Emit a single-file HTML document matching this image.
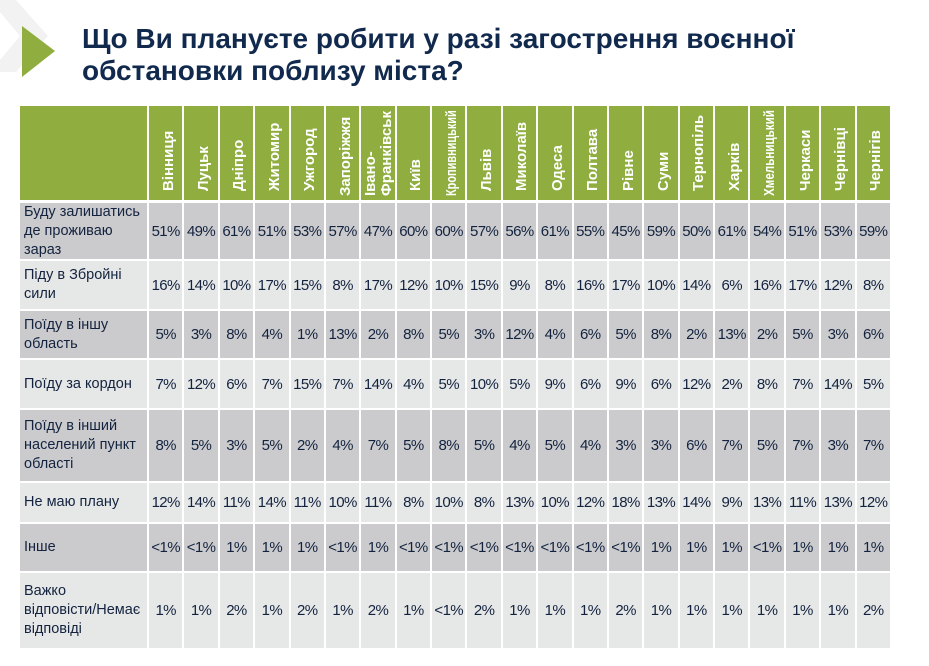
<!DOCTYPE html>
<html><head><meta charset="utf-8"><style>
body{margin:0;width:929px;height:666px;background:#fff;position:relative;overflow:hidden;font-family:"Liberation Sans","DejaVu Sans",sans-serif}
.t{position:absolute;left:82px;top:23px;font-size:28px;font-weight:bold;color:#10294d;line-height:32px;white-space:nowrap}
.c{position:absolute;box-sizing:border-box;display:flex;align-items:center;justify-content:center;color:#13233f;font-size:15px;letter-spacing:-0.6px}
.h{background:#8fae3f}
.hv{position:absolute;left:50%;bottom:8px;transform-origin:left bottom;color:#fff;font-size:15px;font-weight:bold;white-space:nowrap;line-height:16px;letter-spacing:0}
.lab{justify-content:flex-start;padding-left:4px;text-align:left;line-height:19px;font-size:14.5px;letter-spacing:0}
</style></head><body>
<svg style="position:absolute;left:0;top:0" width="60" height="80">
<polygon points="0,0 16,0 48,36 16,72 0,72 0,60 20,36 0,12" fill="#f2f2f2"/>
<polygon points="22,26 55,51 22,77" fill="#8fae3f"/>
</svg>
<div class="t">Що Ви плануєте робити у разі загострення воєнної<br>обстановки поблизу міста?</div>
<div id="tbl"></div>
<script>
const cities=["Вінниця","Луцьк","Дніпро","Житомир","Ужгород","Запоріжжя","Івано-<br>Франківськ","Київ","Кропивницький","Львів","Миколаїв","Одеса","Полтава","Рівне","Суми","Тернопіль","Харків","Хмельницький","Черкаси","Чернівці","Чернігів"];
const labels=["Буду залишатись<br>де проживаю<br>зараз","Піду в Збройні<br>сили","Поїду в іншу<br>область","Поїду за кордон","Поїду в інший<br>населений пункт<br>області","Не маю плану","Інше","Важко<br>відповісти/Немає<br>відповіді"];
const r1=["51%","49%","61%","51%","53%","57%","47%","60%","60%","57%","56%","61%","55%","45%","59%","50%","61%","54%","51%","53%","59%"];
const r2=["16%","14%","10%","17%","15%","8%","17%","12%","10%","15%","9%","8%","16%","17%","10%","14%","6%","16%","17%","12%","8%"];
const r3=["5%","3%","8%","4%","1%","13%","2%","8%","5%","3%","12%","4%","6%","5%","8%","2%","13%","2%","5%","3%","6%"];
const r4=["7%","12%","6%","7%","15%","7%","14%","4%","5%","10%","5%","9%","6%","9%","6%","12%","2%","8%","7%","14%","5%"];
const r5=["8%","5%","3%","5%","2%","4%","7%","5%","8%","5%","4%","5%","4%","3%","3%","6%","7%","5%","7%","3%","7%"];
const r6=["12%","14%","11%","14%","11%","10%","11%","8%","10%","8%","13%","10%","12%","18%","13%","14%","9%","13%","11%","13%","12%"];
const r7=["<1%","<1%","1%","1%","1%","<1%","1%","<1%","<1%","<1%","<1%","<1%","<1%","<1%","1%","1%","1%","<1%","1%","1%","1%"];
const r8=["1%","1%","2%","1%","2%","1%","2%","1%","<1%","2%","1%","1%","1%","2%","1%","1%","1%","1%","1%","1%","2%"];
const rows=[r1,r2,r3,r4,r5,r6,r7,r8];
const tops=[203,261,311,360,410,483,524,573],bots=[259,309,358,408,481,522,571,648];
const T=document.getElementById('tbl');
const x0=20,x1=149,xr=892,cw=(xr-x1)/21;
function cell(x,y,w,h,cls,html,bg){const d=document.createElement('div');d.className='c '+cls;d.style.cssText=`left:${x}px;top:${y}px;width:${w}px;height:${h}px;`+(bg?`background:${bg}`:'');d.innerHTML=html;T.appendChild(d);return d;}
let hc=cell(x0,106,x1-x0-2,94,'h','');


cities.forEach((c,i)=>{const d=cell(x1+i*cw,106,cw-2,94,'h','<span class="hv">'+c+'</span>');


const s=d.firstChild;const two=c.indexOf('<br>')>=0;
const w=s.offsetWidth;const sc=Math.min(1,86/w);
s.style.bottom=(w>76?4:9)+'px';
s.style.marginLeft=(two?17:11)+'px';
s.style.transform='rotate(-90deg) scale('+sc+',1)';});
rows.forEach((r,j)=>{const bg=j%2==0?'#cbcbcd':'#e6e7e7';const h=bots[j]-tops[j];
const l=cell(x0,tops[j],x1-x0-2,h,'lab',labels[j],bg);


r.forEach((v,i)=>{const d=cell(x1+i*cw,tops[j],cw-2,h,'',v.replace('<','&lt;'),bg);

});});
</script>
</body></html>
